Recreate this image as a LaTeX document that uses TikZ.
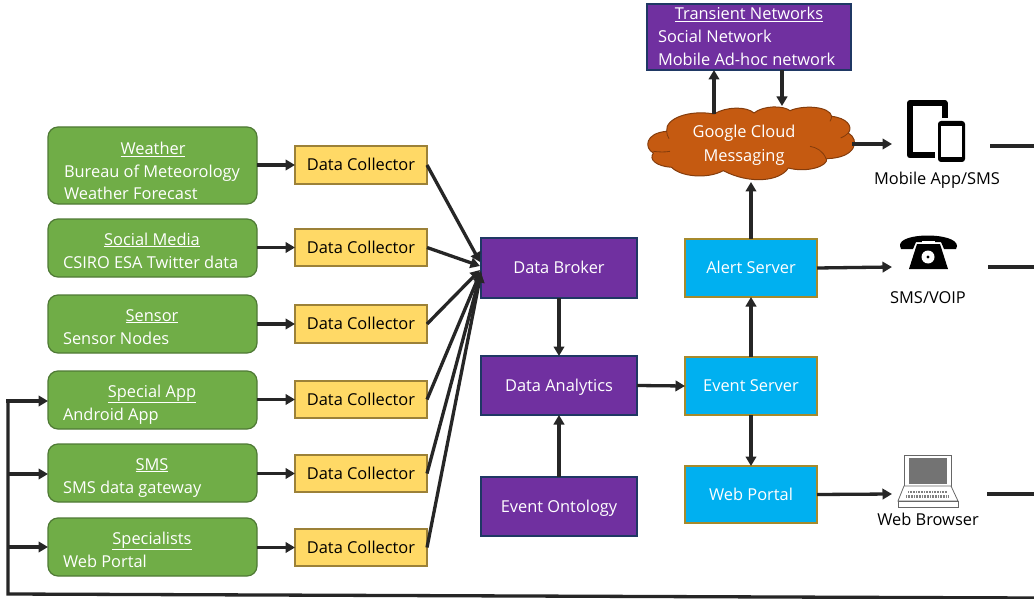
\documentclass[tikz,border=0pt]{standalone}
\usepackage{fontspec}
\setmainfont{Open Sans}
\usetikzlibrary{arrows.meta,calc}
\definecolor{arrowc}{HTML}{262626}
\definecolor{greenf}{HTML}{70AD47}
\definecolor{greenb}{HTML}{4F7A35}
\definecolor{yellowf}{HTML}{FFD966}
\definecolor{yellowb}{HTML}{9C8138}
\definecolor{purplef}{HTML}{7030A0}
\definecolor{purpleb}{HTML}{1F3864}
\definecolor{bluef}{HTML}{00B0F0}
\definecolor{blueb}{HTML}{A68A2C}
\definecolor{cloudf}{HTML}{C55A11}
\definecolor{cloudb}{HTML}{843C0C}
\newcommand{\boxat}[6][]{%
  \node[#2,minimum width=#5-#3,minimum height=#6-#4,#1] at ({(#3+#5)/2},{(#4+#6)/2})}
\tikzset{
  x=1pt,y=-1pt,
  every node/.style={inner sep=0pt,outer sep=0pt,font=\fontsize{16.4}{19}\selectfont},
  conn/.style={draw=arrowc,line width=3.3pt,-{Triangle[length=9.5pt,width=10.5pt]}},
  plainline/.style={draw=arrowc,line width=3.3pt},
  greenbox/.style={rectangle,rounded corners=10pt,fill=greenf,draw=greenb,line width=1.2pt},
  yellowbox/.style={rectangle,fill=yellowf,draw=yellowb,line width=1.2pt,text=black,text height=11pt,text depth=0pt},
  purplebox/.style={rectangle,fill=purplef,draw=purpleb,line width=1.2pt,text=white,text height=11pt,text depth=0pt},
  bluebox/.style={rectangle,fill=bluef,draw=blueb,line width=1.2pt,text=white,text height=11pt,text depth=0pt},
  wtext/.style={text=white,anchor=base west,yshift=-1pt},
  wtitle/.style={text=white,anchor=base,yshift=-1pt},
  ktext/.style={text=black,anchor=base,yshift=-1pt},
  lapline/.style={draw=black!60,fill=white,line width=.8pt},
}
\begin{document}
\begin{tikzpicture}
\useasboundingbox (0,0) rectangle (1034,599);
\fill[white] (0,0) rectangle (1034,599);
% green sources
\boxat{greenbox}{48}{127}{257}{204} (gw) {};
\boxat{greenbox}{48}{219}{257}{277} (gm) {};
\boxat{greenbox}{48}{295}{257}{353} (gs) {};
\boxat{greenbox}{48}{371}{257}{429} (ga) {};
\boxat{greenbox}{48}{444}{257}{502} (gt) {};
\boxat{greenbox}{48}{518}{257}{576} (gp) {};
\node[wtitle] (t1) at (153,154) {\underline{Weather}};
\node[wtext] (t1a) at (64,177) {Bureau of Meteorology};
\node[wtext] (t1b) at (64,199) {Weather Forecast};
\node[wtitle] (t2) at (152,244) {\underline{Social Media}};
\node[wtext] (t2a) at (63,267) {CSIRO ESA Twitter data};
\node[wtitle] (t3) at (152,320) {\underline{Sensor}};
\node[wtext] (t3a) at (63,343) {Sensor Nodes};
\node[wtitle] (t4) at (152,396) {\underline{Special App}};
\node[wtext] (t4a) at (63,419) {Android App};
\node[wtitle] (t5) at (152,469) {\underline{SMS}};
\node[wtext] (t5a) at (63,492) {SMS data gateway};
\node[wtitle] (t6) at (152,543) {\underline{Specialists}};
\node[wtext] (t6a) at (63,566) {Web Portal};
% collectors
\boxat{yellowbox}{295}{146}{427}{184} (c1) {Data Collector};
\boxat{yellowbox}{295}{229}{427}{266} (c2) {Data Collector};
\boxat{yellowbox}{295}{305}{427}{343} (c3) {Data Collector};
\boxat{yellowbox}{295}{381}{427}{418} (c4) {Data Collector};
\boxat{yellowbox}{295}{455}{427}{492} (c5) {Data Collector};
\boxat{yellowbox}{295}{529}{427}{566} (c6) {Data Collector};
% centre
\boxat{purplebox}{481}{238}{637}{298} (broker) {Data Broker};
\boxat{purplebox}{481}{356}{637}{415} (analytics) {Data Analytics};
\boxat{purplebox}{481}{477}{637}{536} (onto) {Event Ontology};
\boxat{bluebox}{685}{239}{817}{297} (alert) {Alert Server};
\boxat{bluebox}{685}{357}{817}{415} (event) {Event Server};
\boxat{bluebox}{685}{466}{817}{523} (portal) {Web Portal};
% transient
\boxat{purplebox}{647}{4}{851}{70} (trans) {};
\node[wtitle] (tn) at (749,19) {\underline{Transient Networks}};
\node[wtext] (tna) at (658,42) {Social Network};
\node[wtext] (tnb) at (658,65) {Mobile Ad-hoc network};
% cloud
\node[minimum width=208pt,minimum height=76pt] (gcm) at (751,144) {};
\begin{scope}[shift={(640,98)},x=0.3333pt,y=-0.3333pt]
\draw[fill=cloudf,draw=cloudb,line width=1pt,line join=round]
  (80,100) .. controls (75,60) and (150,35) .. (222,48)
  .. controls (260,25) and (320,25) .. (342,45)
  .. controls (370,22) and (430,22) .. (450,38)
  .. controls (490,20) and (570,25) .. (575,55)
  .. controls (620,60) and (640,85) .. (625,105)
  .. controls (660,125) and (650,180) .. (560,182)
  .. controls (565,205) and (500,225) .. (445,210)
  .. controls (420,250) and (330,260) .. (250,218)
  .. controls (200,245) and (120,235) .. (95,208)
  .. controls (50,205) and (25,185) .. (40,165)
  .. controls (12,150) and (15,105) .. (80,100) -- cycle;
\draw[draw=cloudb,line width=.8pt]
  (40,160) .. controls (55,162) and (75,163) .. (90,160)
  (510,145) .. controls (530,148) and (550,160) .. (558,182)
  (625,105) .. controls (618,112) and (610,117) .. (602,120)
  (575,55) .. controls (575,60) and (573,65) .. (570,70)
  (80,100) .. controls (80,108) and (83,115) .. (87,122);
\end{scope}
\node[wtitle] (gcm1) at (744,137) {Google Cloud};
\node[wtitle] (gcm2) at (744,160) {Messaging};
% icons
\coordinate (mob) at (892,144);
\coordinate (tel) at (892,267);
\coordinate (lap) at (892,494);
\draw[black,line width=6pt,line join=round] (935,155.5) -- (910,155.5) -- (910,103) -- (944.5,103) -- (944.5,118.5);
\fill[black,rounded corners=3pt] (938,121) rectangle (965,162);
\fill[white] (941,126) rectangle (962,157);
\node[ktext] (ml) at (937,184) {Mobile App/SMS};
% telephone
\fill[black] (900,246) .. controls (898,232) and (957,232) .. (957,246)
  -- (956,249) -- (944,249) -- (941,242) -- (916,242) -- (913,249) -- (901,249) -- cycle;
\fill[black] (917,244) -- (940,244) -- (948,269) -- (909,269) -- cycle;
\fill[white] (922,240.5) rectangle (935,244);
\fill[white] (928,257) circle (6.5pt);
\fill[black] (928,257) circle (1.6pt);
\node[ktext] (sl) at (928,302) {SMS/VOIP};
% laptop
\draw[lapline] (904,455) rectangle (951,486);
\fill[black!55] (909,457.5) rectangle (947,484);
\draw[lapline] (904,486) -- (951,486) -- (958,501) -- (898,501) -- cycle;
\draw[lapline] (898,501) rectangle (958,507);
\draw[black!50,line width=2.6pt,dash pattern=on .8pt off .8pt] (908,492) -- (947,492);
\draw[black!50,line width=2.6pt,dash pattern=on .8pt off .8pt] (906,496.5) -- (949,496.5);
\node[ktext] (wl) at (928,524) {Web Browser};
% connectors green -> collector
\foreach \g/\c in {gw/c1,gm/c2,gs/c3,ga/c4,gt/c5,gp/c6}
  \draw[conn] (\g.east |- \c.west) -- (\c.west);
% collectors -> broker
\draw[conn] (c1.east) -- ($(broker.west)+(-1,-6)$);
\draw[conn] (c2.east) -- ($(broker.west)+(-1,-2)$);
\draw[conn] (c3.east) -- ($(broker.west)+(-1,2)$);
\draw[conn] (c4.east) -- ($(broker.west)+(0,3)$);
\draw[conn] (c5.east) -- ($(broker.west)+(0,4)$);
\draw[conn] (c6.east) -- ($(broker.west)+(0,5)$);
% centre connectors
\draw[conn] (broker.south) -- (analytics.north);
\draw[conn] (onto.north) -- (analytics.south);
\draw[conn] (analytics.east) -- (event.west);
\draw[conn] (event.north) -- (alert.south);
\draw[conn] (event.south) -- (portal.north);
\draw[conn] (alert.north) -- (gcm.south);
\coordinate (ta) at (714,114);
\coordinate (tb) at (782,106);
\draw[conn] (ta) -- (ta |- trans.south);
\draw[conn] (tb |- trans.south) -- (tb);
\draw[conn] ($(gcm.east)+(-3,0)$) -- (mob);
\draw[conn] (alert.east) -- (tel);
\draw[conn] (portal.east) -- (lap);
% stubs to the right and feedback
\coordinate (s1a) at (990,146); \coordinate (s1b) at (1034,146);
\coordinate (s2a) at (988,267); \coordinate (s2b) at (1034,267);
\coordinate (s3a) at (987,494); \coordinate (s3b) at (1034,494);
\draw[plainline] (s1a) -- (s1b);
\draw[plainline] (s2a) -- (s2b);
\draw[plainline] (s3a) -- (s3b);
\coordinate (fbr) at (1034,598); \coordinate (fbl) at (8,594); \coordinate (fbt) at (8,401);
\draw[plainline,line join=miter] (fbr) -- (fbl) -- (fbt);
\draw[conn] ($(fbt)+(-1.6,0)$) -- (ga.west |- fbt);
\coordinate (fb5) at (8,474);
\coordinate (fb6) at (8,547);
\draw[conn] (fb5) -- (gt.west |- fb5);
\draw[conn] (fb6) -- (gp.west |- fb6);
\end{tikzpicture}
\end{document}
